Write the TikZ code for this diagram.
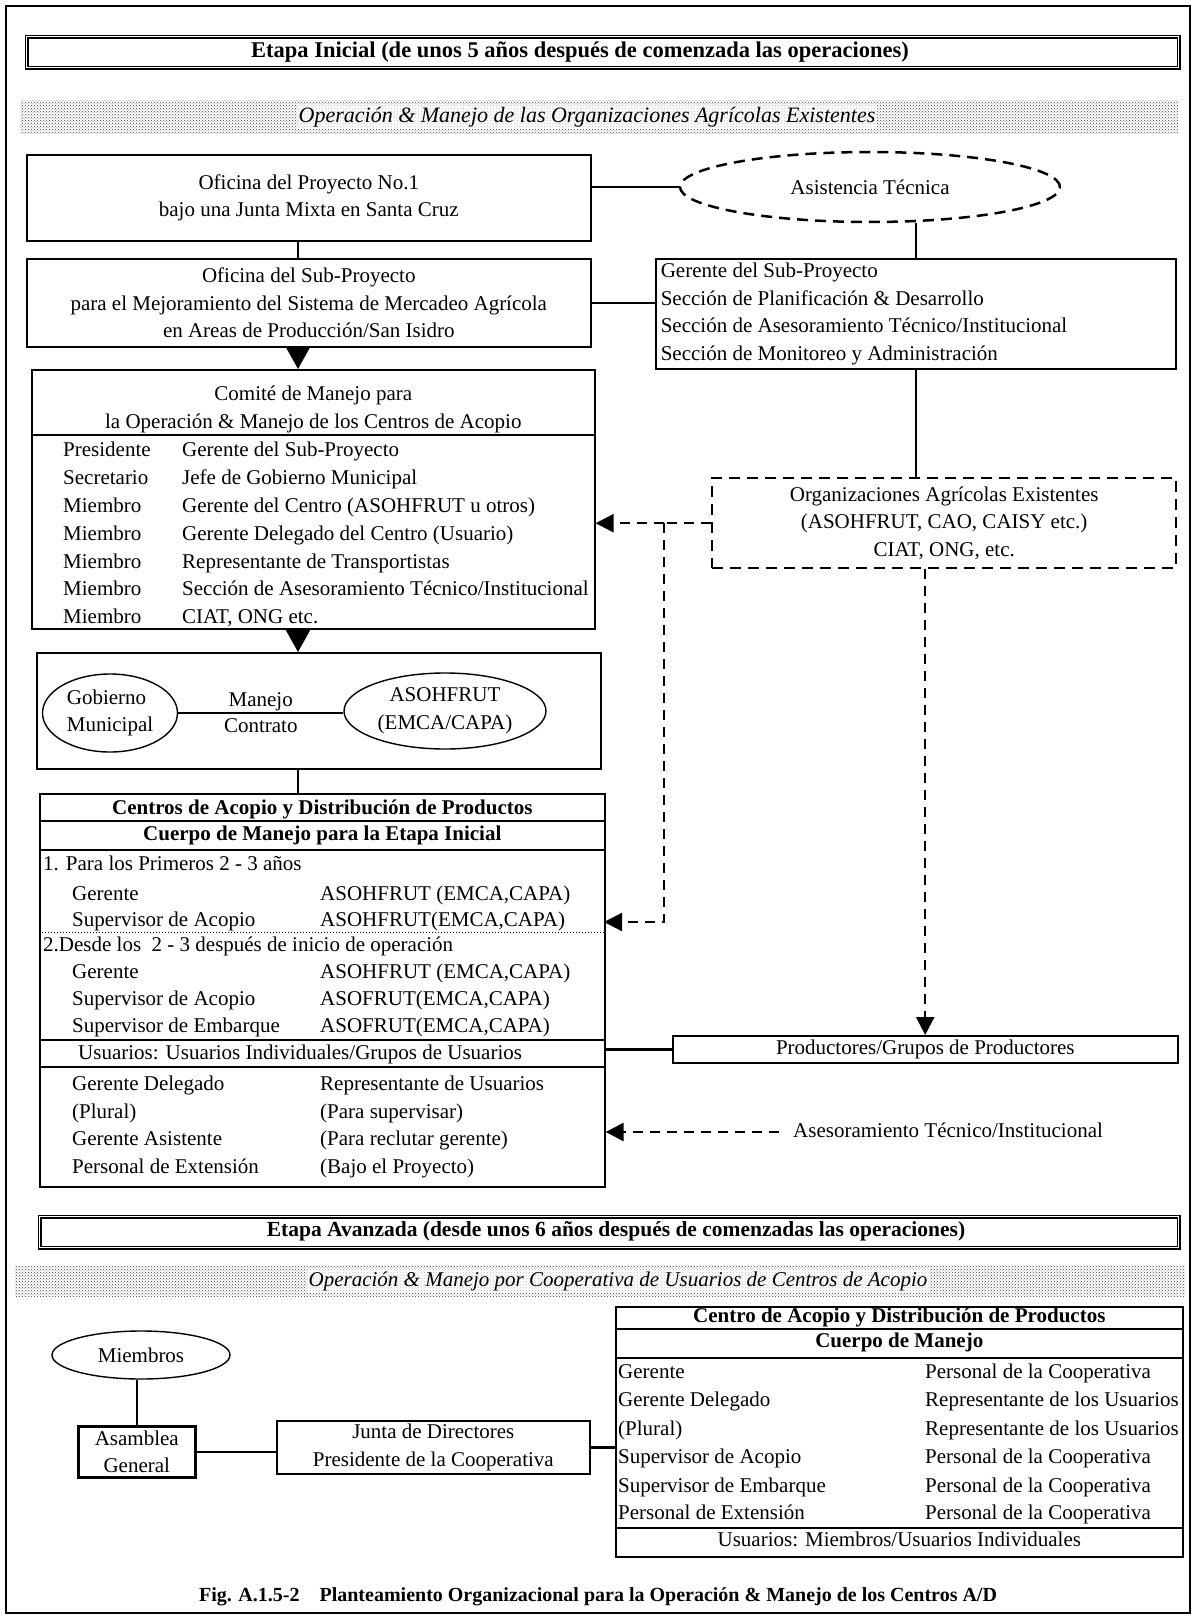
\documentclass[tikz,border=0pt]{standalone}
\usepackage{fontspec}
\setmainfont{Liberation Serif}
\usetikzlibrary{positioning,shapes.geometric,arrows.meta,patterns}
\newcommand\bodyfont{\fontsize{21}{27.5}\selectfont}
\tikzset{
  box/.style={draw, line width=1.6pt, inner sep=0pt, anchor=north west},
  title/.style={box, line width=1.2pt, double, double distance=1.6pt},
  dashbox/.style={line width=2.4pt, dash pattern=on 11pt off 7pt},
  ell/.style={ellipse, draw, line width=1.4pt, inner sep=0pt},
  txt/.style={inner sep=0pt, text height=15pt, text depth=5pt},
  band/.style={pattern=crosshatch dots, pattern color=black!75},
  bandtxt/.style={font=\bodyfont\itshape, fill=white, fill opacity=0.7, text opacity=1, inner sep=2pt},
  conn/.style={line width=2.6pt},
  thinrule/.style={line width=1.2pt},
  dline/.style={line width=2.4pt, dash pattern=on 10pt off 7pt},
  darr/.style={dline, -{Triangle[length=18pt,width=18pt]}},
  tri/.style={line width=2pt, -{Triangle[length=22pt,width=24pt]}},
}
\begin{document}
\begin{tikzpicture}[x=1pt, y=-1pt, font=\bodyfont]
    \useasboundingbox (0,0) rectangle (1195,1616);
    \draw[line width=1.6pt] (6,6) rectangle (1190,1613);
    \coordinate (mid) at (298,0);

    % Etapa inicial
    \node[title, minimum width=1152pt, minimum height=31pt] (et1) at (26,36) {};
    \node[font=\fontsize{22.5}{27}\selectfont\bfseries, inner sep=0pt] (et1txt) at (580,52)
        {Etapa Inicial (de unos 5 años después de comenzada las operaciones)};
    \path[band] (20,101) rectangle (1178,134);
    \node[bandtxt, font=\fontsize{22}{27}\selectfont\itshape] (op1) at (587,117) {Operación \& Manejo de las Organizaciones Agrícolas Existentes};

    \node[box, minimum width=564pt, minimum height=86pt, align=center] (ofi) at (26,154)
        {Oficina del Proyecto No.1\\bajo una Junta Mixta en Santa Cruz};
    \node[ell, dashbox, line width=2.5pt, minimum width=380pt, minimum height=70pt] (asist) at (870,187)
        {Asistencia Técnica};
    \node[box, minimum width=564pt, minimum height=88pt, align=center] (sub) at (26,258)
        {Oficina del Sub-Proyecto\\para el Mejoramiento del Sistema de Mercadeo Agrícola\\en Areas de Producción/San Isidro};
    \node[box, minimum width=520pt, minimum height=110pt, text width=510pt, align=flush left, inner xsep=5pt] (ger) at (655,258)
        {Gerente del Sub-Proyecto\\Sección de Planificación \& Desarrollo\\Sección de Asesoramiento Técnico/Institucional\\Sección de Monitoreo y Administración};

    \draw[conn] (ofi.east |- asist.west) -- (asist.west);
    \draw[conn] (ofi.south -| mid) -- (sub.north -| mid);
    \draw[conn] (ger.north) -- (ger.north |- asist.south);
    \draw[conn] (sub.east) -- (sub.east -| ger.west);

    % comite de manejo
    \node[box, minimum width=563pt, minimum height=259pt] (com) at (31,369) {};
    \node[align=center, inner sep=0pt, below=17pt of com.north] (comtit)
        {Comité de Manejo para\\la Operación \& Manejo de los Centros de Acopio};
    \draw[thinrule] ([yshift=-66pt]com.north west) -- ([yshift=-66pt]com.north east);
    \foreach \n/\a/\b in {1/Presidente/{Gerente del Sub-Proyecto},
                          2/Secretario/{Jefe de Gobierno Municipal},
                          3/Miembro/{Gerente del Centro (ASOHFRUT u otros)},
                          4/Miembro/{Gerente Delegado del Centro (Usuario)},
                          5/Miembro/{Representante de Transportistas},
                          6/Miembro/{Sección de Asesoramiento Técnico/Institucional},
                          7/Miembro/{CIAT, ONG etc.}} {
        \node[txt, anchor=west] (comL\n) at (63,{424+27.8*\n}) {\a};
        \node[txt, anchor=west] (comR\n) at (182,{424+27.8*\n}) {\b};
    }
    \draw[tri] (sub.south -| mid) -- (com.north -| mid);

    % gobierno / asohfrut
    \node[box, minimum width=564pt, minimum height=116pt] (gob) at (36,652) {};
    \node[ell, minimum width=135pt, minimum height=78pt, align=left] (gobe) at (110,713) {Gobierno\\Municipal};
    \node[ell, minimum width=202pt, minimum height=76pt, align=center] (asoe) at (445,711) {ASOHFRUT\\(EMCA/CAPA)};
    \draw[conn] (gobe.east) -- (gobe.east -| asoe.west)
        node[midway, above, inner sep=1pt] (manejo) {Manejo}
        node[midway, below, inner sep=4pt] (contrato) {Contrato};
    \draw[tri] (com.south -| mid) -- (gob.north -| mid);

    % centros de acopio
    \node[box, minimum width=565pt, minimum height=393pt] (cen) at (39,793) {};
    \draw[conn] (gob.south -| mid) -- (cen.north -| mid);
    \node[txt, font=\bodyfont\bfseries] (centit) at ([yshift=-16pt]cen.north) {Centros de Acopio y Distribución de Productos};
    \draw[thinrule] ([yshift=-28pt]cen.north west) -- ([yshift=-28pt]cen.north east);
    \node[txt, font=\bodyfont\bfseries] (censub) at ([yshift=-42pt]cen.north) {Cuerpo de Manejo para la Etapa Inicial};
    \draw[thinrule] ([yshift=-57pt]cen.north west) -- ([yshift=-57pt]cen.north east);
    \node[txt, anchor=west] (cenp1) at (43,865) {1. Para los Primeros 2 - 3 años};
    \draw[line width=1pt, dotted] ([yshift=-139pt]cen.north west) -- ([yshift=-139pt]cen.north east);
    \node[txt, anchor=west] (cenp2) at (43,946) {2.Desde los~~2 - 3 después de inicio de operación};
    \draw[thinrule] ([yshift=-247pt]cen.north west) -- ([yshift=-247pt]cen.north east);
    \node[txt, anchor=west] (cenusu) at (78,1054) {Usuarios: Usuarios Individuales/Grupos de Usuarios};
    \draw[thinrule] ([yshift=-274pt]cen.north west) -- ([yshift=-274pt]cen.north east);
    \foreach \n/\y/\a/\b in {1/895/Gerente/{ASOHFRUT (EMCA,CAPA)},
                             2/921/{Supervisor de Acopio}/{ASOHFRUT(EMCA,CAPA)},
                             3/973/Gerente/{ASOHFRUT (EMCA,CAPA)},
                             4/1000/{Supervisor de Acopio}/{ASOFRUT(EMCA,CAPA)},
                             5/1027/{Supervisor de Embarque}/{ASOFRUT(EMCA,CAPA)},
                             6/1085/{Gerente Delegado}/{Representante de Usuarios},
                             7/1113/{(Plural)}/{(Para supervisar)},
                             8/1140/{Gerente Asistente}/{(Para reclutar gerente)},
                             9/1168/{Personal de Extensión}/{(Bajo el Proyecto)}} {
        \node[txt, anchor=west] (cenL\n) at (72,\y) {\a};
        \node[txt, anchor=west] (cenR\n) at (320,\y) {\b};
    }

    % organizaciones existentes
    \node[box, dashbox, minimum width=464pt, minimum height=90pt, align=center] (orgs) at (711,477)
        {Organizaciones Agrícolas Existentes\\(ASOHFRUT, CAO, CAISY etc.)\\CIAT, ONG, etc.};
    \draw[conn] (ger.south) -- (ger.south |- orgs.north);
    \coordinate[left=47pt of orgs.west] (jn);
    \coordinate (acq) at (604,922);
    \draw[dline] (orgs.west) -- (jn);
    \draw[darr] (jn) -- (jn -| com.east);
    \draw[darr] (jn) |- (acq);

    \node[box, minimum width=505pt, minimum height=27pt] (prod) at (672,1035) {Productores/Grupos de Productores};
    \draw[darr] ([xshift=-19pt]orgs.south) -- ([xshift=-19pt]orgs.south |- prod.north);
    \draw[conn] (prod.west -| cen.east) -- (prod.west);
    \node[txt, anchor=west] (ases) at (793,1132) {Asesoramiento Técnico/Institucional};
    \draw[darr] ([xshift=-14pt]ases.west) -- (ases.west -| cen.east);

    % Etapa avanzada
    \node[title, minimum width=1139pt, minimum height=31pt] (et2) at (39,1216) {};
    \node[font=\fontsize{21.5}{27}\selectfont\bfseries, inner sep=0pt] (et2txt) at (616,1231)
        {Etapa Avanzada (desde unos 6 años después de comenzadas las operaciones)};
    \path[band] (15,1265) rectangle (1185,1296);
    \node[bandtxt] (op2) at (618,1281) {Operación \& Manejo por Cooperativa de Usuarios de Centros de Acopio};

    \node[ell, minimum width=178pt, minimum height=48pt] (miem) at (141,1355) {Miembros};
    \node[box, line width=2.6pt, minimum width=117pt, minimum height=51pt, align=center] (asam) at (77,1425) {Asamblea\\General};
    \node[box, minimum width=313pt, minimum height=53pt, align=center] (junta) at (276,1420)
        {Junta de Directores\\Presidente de la Cooperativa};
    \node[box, minimum width=567pt, minimum height=250pt] (cen2) at (615,1306) {};
    \draw[conn] (asam.north) -- (asam.north |- miem.south);
    \draw[conn] (asam.east) -- (asam.east -| junta.west);
    \draw[conn] (junta.east) -- (junta.east -| cen2.west);

    \node[txt, font=\bodyfont\bfseries] (c2tit) at ([yshift=-11pt]cen2.north) {Centro de Acopio y Distribución de Productos};
    \draw[thinrule] ([yshift=-23pt]cen2.north west) -- ([yshift=-23pt]cen2.north east);
    \node[txt, font=\bodyfont\bfseries] (c2sub) at ([yshift=-36pt]cen2.north) {Cuerpo de Manejo};
    \draw[thinrule] ([yshift=-52pt]cen2.north west) -- ([yshift=-52pt]cen2.north east);
    \foreach \n/\y/\a/\b in {1/1373/Gerente/{Personal de la Cooperativa},
                             2/1401/{Gerente Delegado}/{Representante de los Usuarios},
                             3/1430/{(Plural)}/{Representante de los Usuarios},
                             4/1458/{Supervisor de Acopio}/{Personal de la Cooperativa},
                             5/1487/{Supervisor de Embarque}/{Personal de la Cooperativa},
                             6/1514/{Personal de Extensión}/{Personal de la Cooperativa}} {
        \node[txt, anchor=west] (c2L\n) at (618,\y) {\a};
        \node[txt, anchor=west] (c2R\n) at (925,\y) {\b};
    }
    \draw[thinrule] ([yshift=-222pt]cen2.north west) -- ([yshift=-222pt]cen2.north east);
    \node[txt] (c2usu) at ([yshift=-235pt]cen2.north) {Usuarios: Miembros/Usuarios Individuales};

    \node[font=\fontsize{20}{24}\selectfont\bfseries] (cap) at (598,1597)
        {Fig. A.1.5-2\quad Planteamiento Organizacional para la Operación \& Manejo de los Centros A/D};
\end{tikzpicture}
\end{document}
